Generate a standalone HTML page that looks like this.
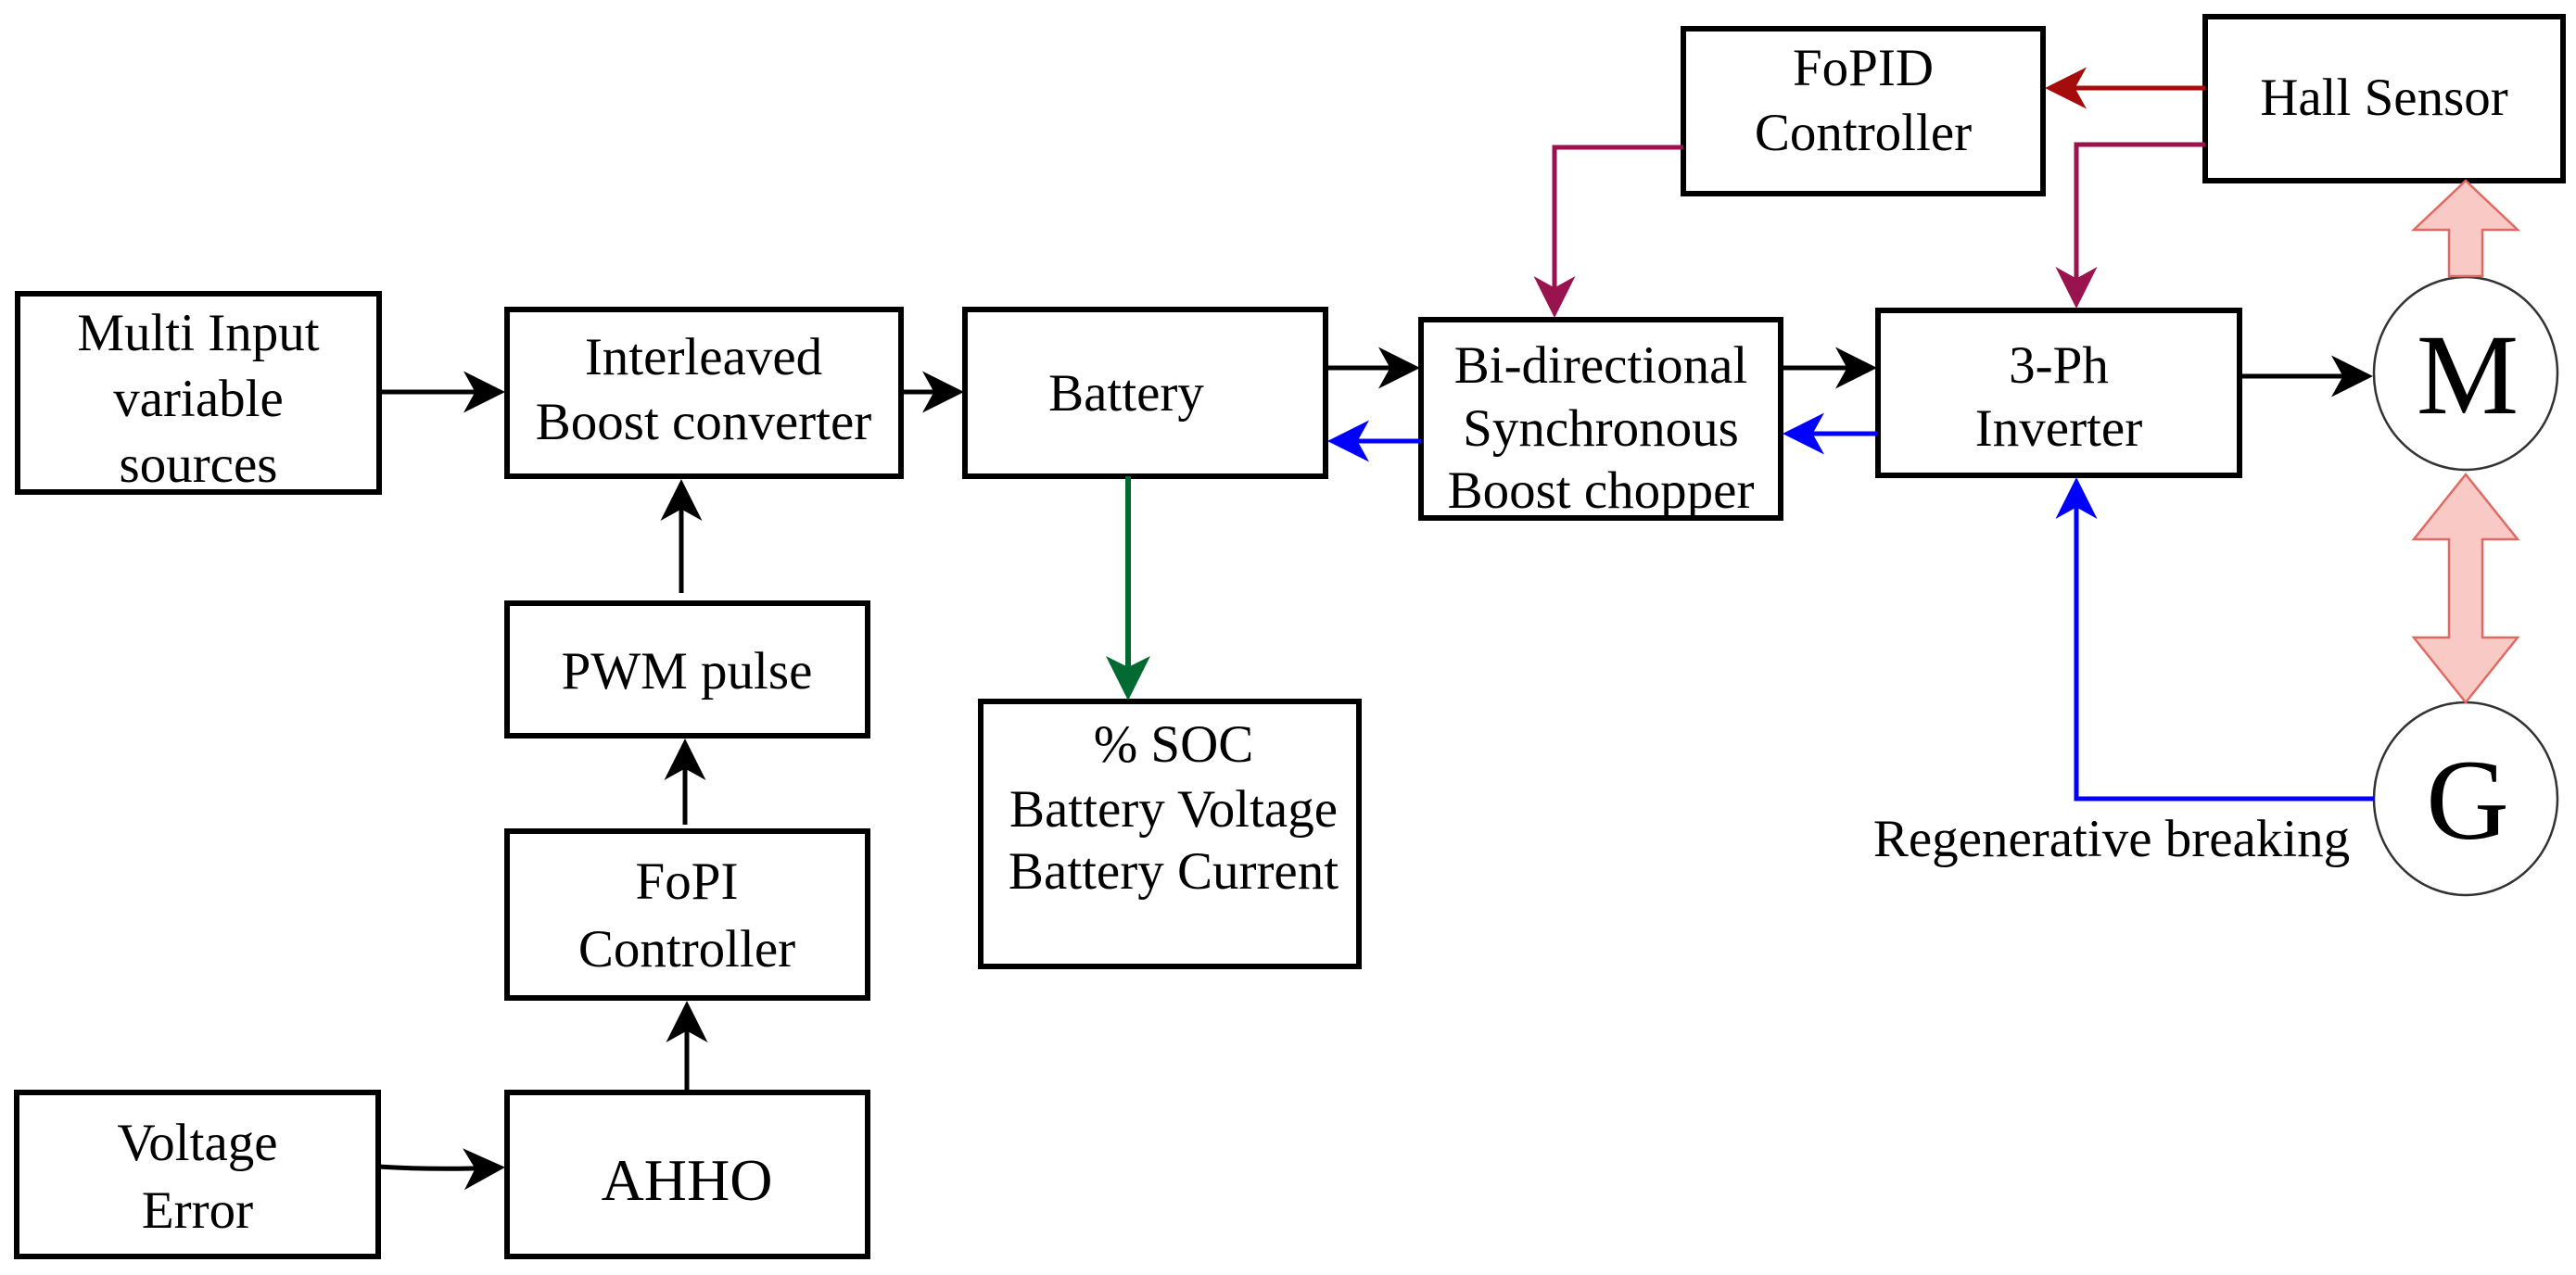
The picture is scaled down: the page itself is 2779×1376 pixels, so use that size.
<!DOCTYPE html>
<html><head><meta charset="utf-8"><style>
html,body{margin:0;padding:0;background:#fff;}
svg{display:block;}
text{font-family:"Liberation Serif",serif;font-size:57px;fill:#000;text-anchor:middle;}
</style></head><body>
<svg width="2779" height="1376" viewBox="0 0 2779 1376" xmlns="http://www.w3.org/2000/svg">
<defs>
<marker id="ab" markerWidth="9" markerHeight="9" refX="8" refY="4.5" orient="auto" markerUnits="strokeWidth"><path d="M0,0 L9,4.5 L0,9 L2.5,4.5 Z" fill="#000"/></marker>
<marker id="abl" markerWidth="9" markerHeight="9" refX="8" refY="4.5" orient="auto" markerUnits="strokeWidth"><path d="M0,0 L9,4.5 L0,9 L2.5,4.5 Z" fill="#0000ff"/></marker>
<marker id="ag" markerWidth="8" markerHeight="8" refX="7" refY="4" orient="auto" markerUnits="strokeWidth"><path d="M0,0 L8,4 L0,8 L2,4 Z" fill="#006a30"/></marker>
<marker id="ar" markerWidth="9" markerHeight="9" refX="8" refY="4.5" orient="auto" markerUnits="strokeWidth"><path d="M0,0 L9,4.5 L0,9 L2.5,4.5 Z" fill="#a50d0d"/></marker>
<marker id="ap" markerWidth="9" markerHeight="9" refX="8" refY="4.5" orient="auto" markerUnits="strokeWidth"><path d="M0,0 L9,4.5 L0,9 L2.5,4.5 Z" fill="#99134f"/></marker>
</defs>
<g fill="none" stroke="#000" stroke-width="6">
<rect x="19" y="317" width="390" height="214"/>
<rect x="547" y="334" width="425" height="180"/>
<rect x="1041" y="334" width="389" height="180"/>
<rect x="547" y="651" width="389" height="143"/>
<rect x="547" y="897" width="389" height="180"/>
<rect x="18" y="1179" width="390" height="177"/>
<rect x="547" y="1179" width="389" height="177"/>
<rect x="1058" y="757" width="408" height="286"/>
<rect x="1533" y="345" width="388" height="214"/>
<rect x="2026" y="335" width="390" height="178"/>
<rect x="1816" y="31" width="388" height="178"/>
<rect x="2379" y="18" width="386" height="177"/>
</g>
<g fill="#fff" stroke="#333" stroke-width="2.5">
<ellipse cx="2660" cy="403" rx="99" ry="104"/>
<ellipse cx="2660" cy="862" rx="99" ry="104"/>
</g>
<g fill="#f9c9c6" stroke="#e06a62" stroke-width="2.5">
<path d="M2642,298 L2642,248 L2604,248 L2660,195 L2716,248 L2678,248 L2678,298 Z"/>
<path d="M2660,512 L2716,582 L2678,582 L2678,688 L2716,688 L2660,758 L2604,688 L2642,688 L2642,582 L2604,582 Z"/>
</g>
<g stroke="#000" stroke-width="5" fill="none">
<line x1="409" y1="423" x2="540" y2="423" marker-end="url(#ab)"/>
<line x1="972" y1="423" x2="1035" y2="423" marker-end="url(#ab)"/>
<line x1="735" y1="640" x2="735" y2="522" marker-end="url(#ab)"/>
<line x1="739" y1="890" x2="739" y2="802" marker-end="url(#ab)"/>
<line x1="741" y1="1176" x2="741" y2="1085" marker-end="url(#ab)"/>
<path d="M408,1259 Q470,1263 540,1260" marker-end="url(#ab)"/>
<line x1="1430" y1="397" x2="1527" y2="397" marker-end="url(#ab)"/>
<line x1="1921" y1="397" x2="2020" y2="397" marker-end="url(#ab)"/>
<line x1="2416" y1="406" x2="2555" y2="406" marker-end="url(#ab)"/>
</g>
<g stroke="#0000ff" stroke-width="5" fill="none">
<line x1="1533" y1="476" x2="1437" y2="476" marker-end="url(#abl)"/>
<line x1="2026" y1="468" x2="1928" y2="468" marker-end="url(#abl)"/>
<path d="M2561,862 L2240,862 L2240,520" marker-end="url(#abl)"/>
</g>
<line x1="1217" y1="514" x2="1217" y2="750" stroke="#006a30" stroke-width="6" marker-end="url(#ag)"/>
<line x1="2379" y1="95" x2="2211" y2="95" stroke="#a50d0d" stroke-width="5" marker-end="url(#ar)"/>
<g stroke="#99134f" stroke-width="5" fill="none">
<path d="M1816,159 L1677,159 L1677,338" marker-end="url(#ap)"/>
<path d="M2379,156 L2240,156 L2240,328" marker-end="url(#ap)"/>
</g>
<text x="214" y="378">Multi Input</text>
<text x="214" y="449">variable</text>
<text x="214" y="520">sources</text>
<text x="759" y="404">Interleaved</text>
<text x="759" y="474">Boost converter</text>
<text x="1215" y="443">Battery</text>
<text x="741" y="743">PWM pulse</text>
<text x="741" y="970">FoPI</text>
<text x="741" y="1043">Controller</text>
<text x="213" y="1252">Voltage</text>
<text x="213" y="1325">Error</text>
<text x="741" y="1295" style="font-size:64px">AHHO</text>
<text x="1266" y="822">% SOC</text>
<text x="1266" y="892">Battery Voltage</text>
<text x="1266" y="959">Battery Current</text>
<text x="1727" y="413">Bi-directional</text>
<text x="1727" y="481">Synchronous</text>
<text x="1727" y="548">Boost chopper</text>
<text x="2221" y="413">3-Ph</text>
<text x="2221" y="481">Inverter</text>
<text x="2010" y="92">FoPID</text>
<text x="2010" y="162">Controller</text>
<text x="2572" y="124">Hall Sensor</text>
<text x="2278" y="924">Regenerative breaking</text>
<text x="2662" y="446" style="font-size:124px">M</text>
<text x="2662" y="905" style="font-size:124px">G</text>
</svg>
</body></html>
